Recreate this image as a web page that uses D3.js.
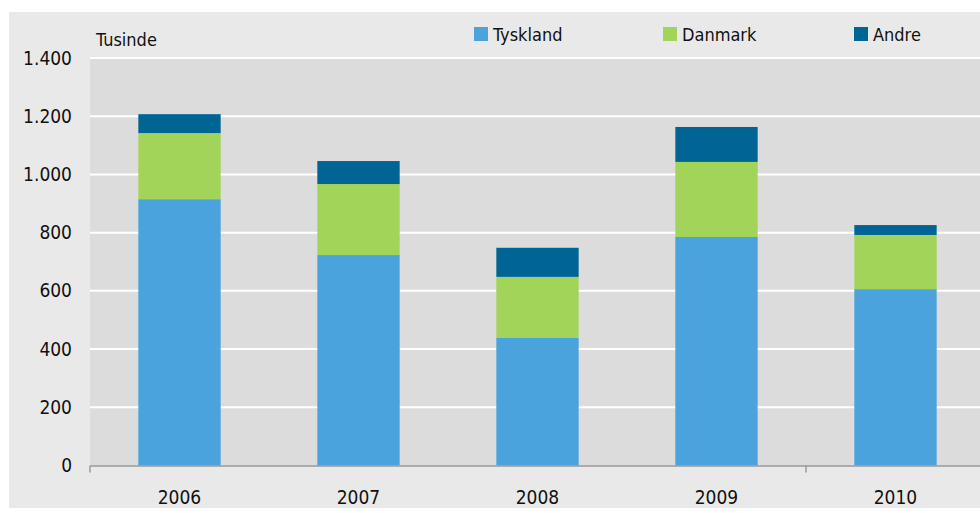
<!DOCTYPE html>
<html lang="da">
<head>
<meta charset="utf-8">
<title>Tusinde</title>
<script src="https://d3js.org/d3.v7.min.js"></script>
<style>
  body { margin: 0; background: #fff; }
  text { font-family: "Liberation Sans Narrow", "DejaVu Sans Condensed", sans-serif; fill: #111; }
</style>
</head>
<body>
<script>
// data (tusinde)
var years = ["2006", "2007", "2008", "2009", "2010"];
var seriesNames = ["Tyskland", "Danmark", "Andre"];
var tyskland = [915, 723, 438, 785, 606];
var danmark = [227, 244, 210, 258, 186];
var andre = [65, 79, 100, 120, 34];
var yTicks = [0, 200, 400, 600, 800, 1000, 1200, 1400];
var colors = ["#4aa3dc", "#a2d45a", "#006595"];

var w = 980, h = 513;
var margin = {top: 58, left: 90, bottom: 47.5};
var plotW = 895;

var svg = d3.select("body").append("svg")
    .attr("width", w)
    .attr("height", h);

// outer panel
svg.append("rect")
    .attr("x", 9).attr("y", 12)
    .attr("width", w - 9).attr("height", 496)
    .attr("fill", "#e9e9e9");

var x = d3.scaleBand()
    .domain(years)
    .range([margin.left, margin.left + plotW])
    .paddingInner(0.54)
    .paddingOuter(0.27);

var y = d3.scaleLinear()
    .domain([0, 1400])
    .range([h - margin.bottom, margin.top]);

// plot background
svg.append("rect")
    .attr("x", margin.left).attr("y", y(1400))
    .attr("width", plotW).attr("height", y(0) - y(1400))
    .attr("fill", "#dcdcdc");

// gridlines
svg.append("g").selectAll("line")
    .data(yTicks.filter(d => d > 0))
    .enter().append("line")
    .attr("x1", margin.left).attr("x2", margin.left + plotW)
    .attr("y1", d => y(d)).attr("y2", d => y(d))
    .attr("stroke", "#fff")
    .attr("stroke-width", 2);

// stacked bars
var rows = years.map((yr, i) => ({year: yr, Tyskland: tyskland[i], Danmark: danmark[i], Andre: andre[i]}));
var stack = d3.stack().keys(seriesNames)(rows);

svg.append("g").selectAll("g")
    .data(stack)
    .enter().append("g")
    .attr("fill", (d, i) => colors[i])
    .selectAll("rect")
    .data(d => d)
    .enter().append("rect")
    .attr("x", d => x(d.data.year))
    .attr("width", x.bandwidth())
    .attr("y", d => y(d[1]))
    .attr("height", d => y(d[0]) - y(d[1]));

// y axis labels
var yAxis = d3.axisLeft(y).tickValues(yTicks).tickSize(0).tickPadding(18)
    .tickFormat(d => d3.format(",")(d).replace(",", "."));
var ya = svg.append("g")
    .attr("transform", "translate(" + margin.left + ",0)")
    .call(yAxis);
ya.select(".domain").remove();
ya.selectAll("text")
    .style("font-family", "Liberation Sans Narrow, DejaVu Sans Condensed, sans-serif")
    .style("font-size", "19px")
    .attr("fill", "#111");

// x axis
var step = x.step();
var xa = svg.append("g")
    .attr("transform", "translate(0," + y(0) + ")")
    .call(d3.axisBottom(x).tickSize(0).tickPadding(25));
xa.select(".domain").attr("stroke", "#999").attr("stroke-width", 1.5);
xa.selectAll("text")
    .style("font-family", "Liberation Sans Narrow, DejaVu Sans Condensed, sans-serif")
    .style("font-size", "19px")
    .attr("fill", "#111");

// category separators only at start and before the last year
var sepYears = [years[0], years[years.length - 1]];
xa.selectAll(".sep")
    .data(sepYears)
    .enter().append("line")
    .attr("class", "sep")
    .attr("x1", d => x(d) - step * x.paddingInner() / 2 - (d === years[0] ? step * (x.paddingOuter() - x.paddingInner() / 2) : 0))
    .attr("x2", d => x(d) - step * x.paddingInner() / 2 - (d === years[0] ? step * (x.paddingOuter() - x.paddingInner() / 2) : 0))
    .attr("y1", 0).attr("y2", 7)
    .attr("stroke", "#999").attr("stroke-width", 1.5);

// unit label
svg.append("text")
    .attr("x", 96).attr("y", 46)
    .style("font-size", "18px")
    .text("Tusinde");

// legend
var legendX = [474, 663, 854];
var lg = svg.append("g").selectAll("g")
    .data(seriesNames)
    .enter().append("g")
    .attr("transform", (d, i) => "translate(" + legendX[i] + ",27)");
lg.append("rect")
    .attr("width", 14).attr("height", 14)
    .attr("fill", (d, i) => colors[i]);
lg.append("text")
    .attr("x", 19).attr("y", 14)
    .style("font-size", "18px")
    .text(d => d);
</script>
</body>
</html>
